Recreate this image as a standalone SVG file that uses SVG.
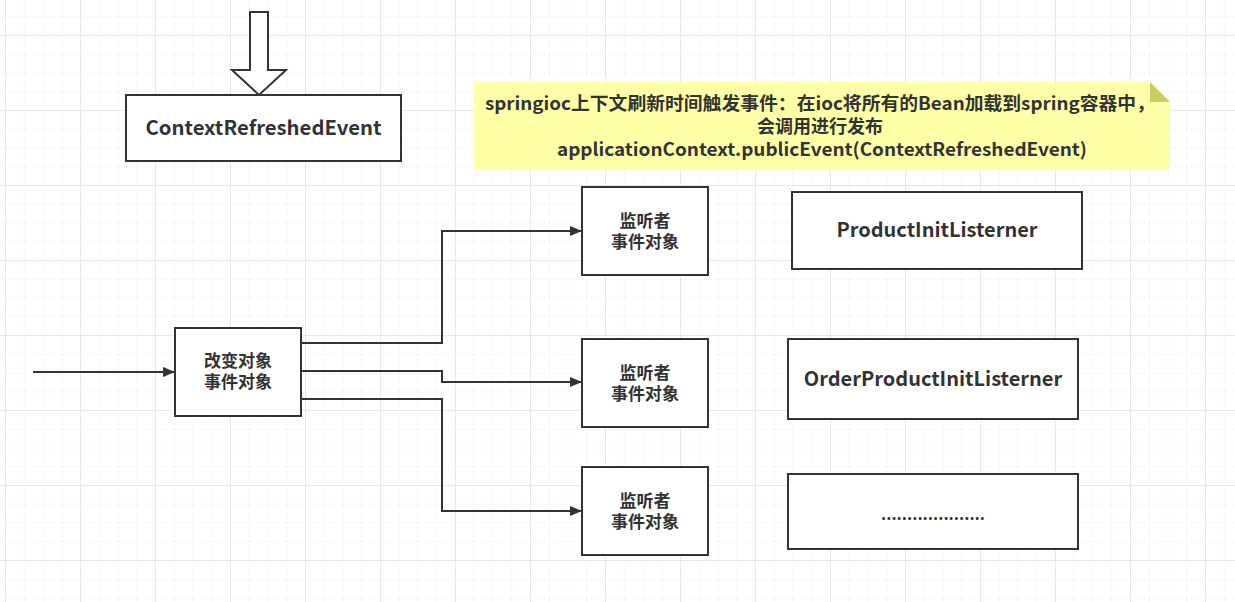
<svg xmlns="http://www.w3.org/2000/svg" width="1235" height="602" viewBox="0 0 1235 602">
<defs>
<pattern id="minor" x="5" y="-2.5" width="18.75" height="18.75" patternUnits="userSpaceOnUse">
<path d="M0 0V18.75M0 0H18.75" fill="none" stroke="#f0f0f0" stroke-width="1"/>
</pattern>
<pattern id="major" x="5" y="35" width="75" height="75" patternUnits="userSpaceOnUse">
<path d="M0 0V75M0 0H75" fill="none" stroke="#e4e4e4" stroke-width="1.5"/>
</pattern>
<marker id="arr" viewBox="0 0 12 10" refX="12" refY="5" markerWidth="12" markerHeight="10" markerUnits="userSpaceOnUse" orient="auto">
<path d="M0 0L12 5L0 10Z" fill="#333"/>
</marker>
<style>
.box{fill:#fff;stroke:#333;stroke-width:2}
.t{font-family:"Noto Sans CJK SC","Noto Sans",sans-serif;font-weight:bold;fill:#333;text-anchor:middle}
.c{fill:none;stroke:#333;stroke-width:2}
</style>
</defs>
<rect width="1235" height="602" fill="#fff"/>
<rect width="1235" height="602" fill="url(#minor)"/>
<rect width="1235" height="602" fill="url(#major)"/>

<g id="block-arrow">
<path d="M250 12H268V70H286L259 95L232 70H250Z" fill="#fff" stroke="#333" stroke-width="2"/>
</g>

<g id="context-refreshed-event">
<rect class="box" x="126" y="95" width="275" height="66"/>
<text class="t" x="263.5" y="135" font-size="20" textLength="236" lengthAdjust="spacingAndGlyphs">ContextRefreshedEvent</text>
</g>

<g id="note">
<path d="M474 82H1150L1170 102V170H474Z" fill="#ffff99" fill-opacity="0.85"/>
<path d="M1150 82V102H1170Z" fill="#cccc66"/>
<text class="t" font-size="18">
<tspan x="822" y="110" textLength="670" lengthAdjust="spacingAndGlyphs">springioc上下文刷新时间触发事件：在ioc将所有的Bean加载到spring容器中，</tspan>
<tspan x="822" y="133">会调用进行发布</tspan>
<tspan x="822" y="156" textLength="530" lengthAdjust="spacingAndGlyphs">applicationContext.publicEvent(ContextRefreshedEvent)</tspan>
</text>
</g>

<g id="change-object">
<rect class="box" x="175" y="328" width="126" height="88"/>
<text class="t" font-size="17"><tspan x="238" y="367">改变对象</tspan><tspan x="238" y="388">事件对象</tspan></text>
</g>

<g id="listener-1">
<rect class="box" x="582" y="187" width="126" height="88"/>
<text class="t" font-size="17"><tspan x="645" y="227">监听者</tspan><tspan x="645" y="248">事件对象</tspan></text>
</g>
<g id="listener-2">
<rect class="box" x="582" y="339" width="126" height="88"/>
<text class="t" font-size="17"><tspan x="645" y="379">监听者</tspan><tspan x="645" y="400">事件对象</tspan></text>
</g>
<g id="listener-3">
<rect class="box" x="582" y="467" width="126" height="88"/>
<text class="t" font-size="17"><tspan x="645" y="507">监听者</tspan><tspan x="645" y="528">事件对象</tspan></text>
</g>

<g id="product-init-listerner">
<rect class="box" x="792" y="192" width="290" height="77"/>
<text class="t" x="937" y="237" font-size="20">ProductInitListerner</text>
</g>
<g id="order-product-init-listerner">
<rect class="box" x="788" y="339" width="290" height="80"/>
<text class="t" x="933" y="386" font-size="20">OrderProductInitListerner</text>
</g>
<g id="more">
<rect class="box" x="788" y="474" width="290" height="75"/>
<text class="t" x="933" y="520" font-size="16">....................</text>
</g>

<g id="connectors">
<path class="c" d="M33 372H175" marker-end="url(#arr)"/>
<path class="c" d="M301 343H442V231H582" marker-end="url(#arr)"/>
<path class="c" d="M301 371H442V382H582" marker-end="url(#arr)"/>
<path class="c" d="M301 399H442V511H582" marker-end="url(#arr)"/>
</g>
</svg>
